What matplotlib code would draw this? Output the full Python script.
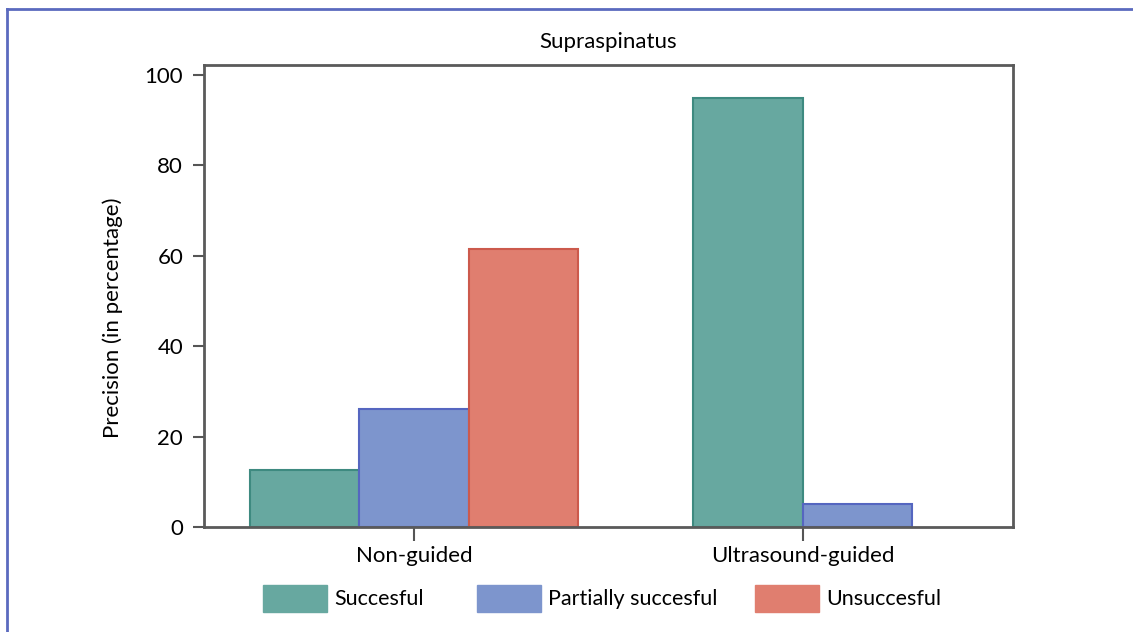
import matplotlib
matplotlib.use("Agg")
import matplotlib.pyplot as plt
from matplotlib.lines import Line2D
import numpy as np

plt.rcParams["font.family"] = ["Lato", "DejaVu Sans"]

groups = ["Non-guided", "Ultrasound-guided"]
series = ["Succesful", "Partially succesful", "Unsuccesful"]
values = {
    "Succesful": [12.5, 95.0],
    "Partially succesful": [26.0, 5.0],
    "Unsuccesful": [61.5, 0.0],
}
fills = {"Succesful": "#67a8a0", "Partially succesful": "#7d95cd", "Unsuccesful": "#e07e6f"}
edges = {"Succesful": "#3e8a80", "Partially succesful": "#5566c0", "Unsuccesful": "#cc5a4c"}

W, H = 1133, 632
fig = plt.figure(figsize=(W / 100, H / 100), dpi=100)
ax = fig.add_axes([204 / W, 1 - 527 / H, (1013 - 204) / W, (527 - 65) / H])

width = 0.2815
for gi, g in enumerate(groups):
    # only the non-empty bars are drawn, centred on the group tick
    present = [s for s in series if values[s][gi] > 0]
    n = len(present)
    for k, s in enumerate(present):
        x = gi + (k - (n - 1) / 2) * width
        ax.bar(x, values[s][gi], width=width, color=fills[s],
               edgecolor=edges[s], linewidth=1.5, zorder=2)

ax.set_xlim(-0.54, 1.54)
ax.set_ylim(0, 102.2)
ax.set_xticks(range(len(groups)))
ax.set_xticklabels(groups, fontsize=16)
ax.set_yticks(np.arange(0, 101, 20))
ax.tick_params(axis="y", labelsize=16, length=8, width=1.5, color="#555555", pad=7)
ax.tick_params(axis="x", length=10, width=1.5, color="#555555", pad=4)
for sp in ax.spines.values():
    sp.set_color("#5a5a5a")
    sp.set_linewidth(2)
ax.set_ylabel("Precision (in percentage)", fontsize=16)
ax.yaxis.set_label_coords(-0.1, 0.452)
ax.set_title("Supraspinatus", fontsize=16, pad=12)

# legend, laid out by hand (columns are not evenly spaced in the original)
legend_x = [263, 477, 755]
for s, lx in zip(series, legend_x):
    fig.add_artist(plt.Rectangle((lx / W, 1 - 612 / H), 64 / W, 27 / H,
                                 color=fills[s], transform=fig.transFigure))
    fig.text((lx + 71) / W, 1 - 599 / H, s, fontsize=15.5, va="center", ha="left")

# page border
fig.add_artist(Line2D([7 / W, 7 / W], [0, 1 - 9 / H], color="#5b6abf", lw=2))
fig.add_artist(Line2D([7 / W, 1], [1 - 9 / H, 1 - 9 / H], color="#5b6abf", lw=2))

fig.savefig("out.png", dpi=100)
